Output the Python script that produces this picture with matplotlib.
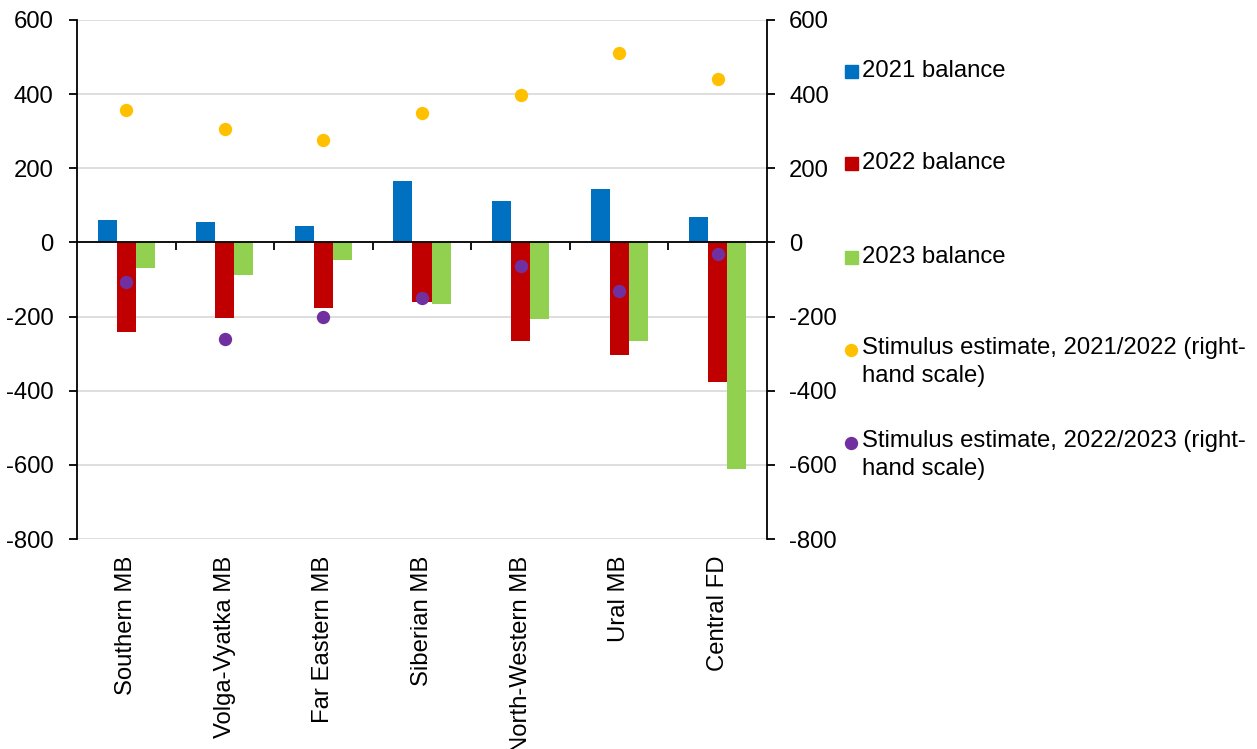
import numpy as np
import matplotlib
matplotlib.use("Agg")
import matplotlib.pyplot as plt
from matplotlib.lines import Line2D
from matplotlib.patches import Rectangle

plt.rcParams['font.family'] = ['Liberation Sans', 'DejaVu Sans']
plt.rcParams['font.size'] = 17.2

# Regional balances (left scale) and stimulus estimates (right scale)
regions = ["Southern MB", "Volga-Vyatka MB", "Far Eastern MB", "Siberian MB",
           "North-Western MB", "Ural MB", "Central FD"]
bal_2021 = [61, 55, 43, 167, 111, 144, 69]
bal_2022 = [-241, -204, -176, -161, -265, -304, -376]
bal_2023 = [-68, -89, -48, -167, -206, -266, -610]
stim_2122 = [358, 305, 276, 348, 397, 512, 440]
stim_2223 = [-106, -261, -201, -151, -63, -132, -32]

C_BLUE = "#0070C0"
C_RED = "#C00000"
C_GREEN = "#92D050"
C_YELLOW = "#FFC000"
C_PURPLE = "#7030A0"

W, H = 1257, 749
fig = plt.figure(figsize=(W / 100, H / 100), dpi=100)

def px(x0, y0, x1, y1):
    return [x0 / W, 1 - y1 / H, (x1 - x0) / W, (y1 - y0) / H]

ax = fig.add_axes(px(77, 20, 767, 539))
ax2 = ax.twinx()

x = np.arange(len(regions))
bw = 0.193
ax.bar(x - bw, bal_2021, bw, color=C_BLUE, zorder=2)
ax.bar(x, bal_2022, bw, color=C_RED, zorder=2)
ax.bar(x + bw, bal_2023, bw, color=C_GREEN, zorder=2)

ax2.plot(x, stim_2122, ls="none", marker="o", ms=9.6, color=C_YELLOW, mec="none")
ax2.plot(x, stim_2223, ls="none", marker="o", ms=9.6, color=C_PURPLE, mec="none")

yt = np.arange(-800, 601, 200)
for a in (ax, ax2):
    a.set_ylim(-800, 600)
    a.set_yticks(yt)
    a.set_yticklabels([str(v) for v in yt])
    a.set_xlim(-0.5, len(regions) - 0.5)

ax.yaxis.grid(True, color="#d4d4d4", lw=1.1)
ax.set_axisbelow(True)

for s in ("top", "right"):
    ax.spines[s].set_visible(False)
for s in ("top", "left", "bottom"):
    ax2.spines[s].set_visible(False)
ax.spines["left"].set_linewidth(1.3)
ax2.spines["right"].set_linewidth(1.3)
ax.spines["bottom"].set_position(("data", 0))
ax.spines["bottom"].set_linewidth(1.3)
ax.spines["bottom"].set_zorder(3)

ax.tick_params(axis="y", direction="out", length=6, width=1.3, pad=11)
ax2.tick_params(axis="y", direction="out", length=6, width=1.3, pad=10)

# category boundary ticks on the zero line, names along the bottom
ax.set_xticks(np.arange(0.5, len(regions) - 1, 1.0))
ax.set_xticklabels([])
ax.tick_params(axis="x", direction="out", length=6, width=1.3)
for xi, name in zip(x, regions):
    ax.text(xi, -0.032, name, rotation=90, ha="center", va="top",
            transform=ax.get_xaxis_transform())

# legend on the right
leg_x_mark = 851 / W
leg_x_text = 862 / W
sq = 13
for y, col, lab in [(71, C_BLUE, "2021 balance"),
                    (163, C_RED, "2022 balance"),
                    (257, C_GREEN, "2023 balance")]:
    fig.add_artist(Rectangle(((851 - sq / 2) / W, 1 - (y + sq / 2) / H), sq / W, sq / H,
                             color=col, transform=fig.transFigure))
    fig.text(leg_x_text, 1 - y / H, lab, va="center", ha="left")

for y, col, lab in [(350, C_YELLOW, "Stimulus estimate, 2021/2022 (right-\nhand scale)"),
                    (443, C_PURPLE, "Stimulus estimate, 2022/2023 (right-\nhand scale)")]:
    fig.add_artist(Line2D([leg_x_mark], [1 - y / H], marker="o", ms=9.6, color=col,
                          mec="none", ls="none", transform=fig.transFigure))
    fig.text(leg_x_text, 1 - (y - 13) / H, lab, va="top", ha="left", linespacing=1.35)

fig.savefig("out.png", dpi=100)
